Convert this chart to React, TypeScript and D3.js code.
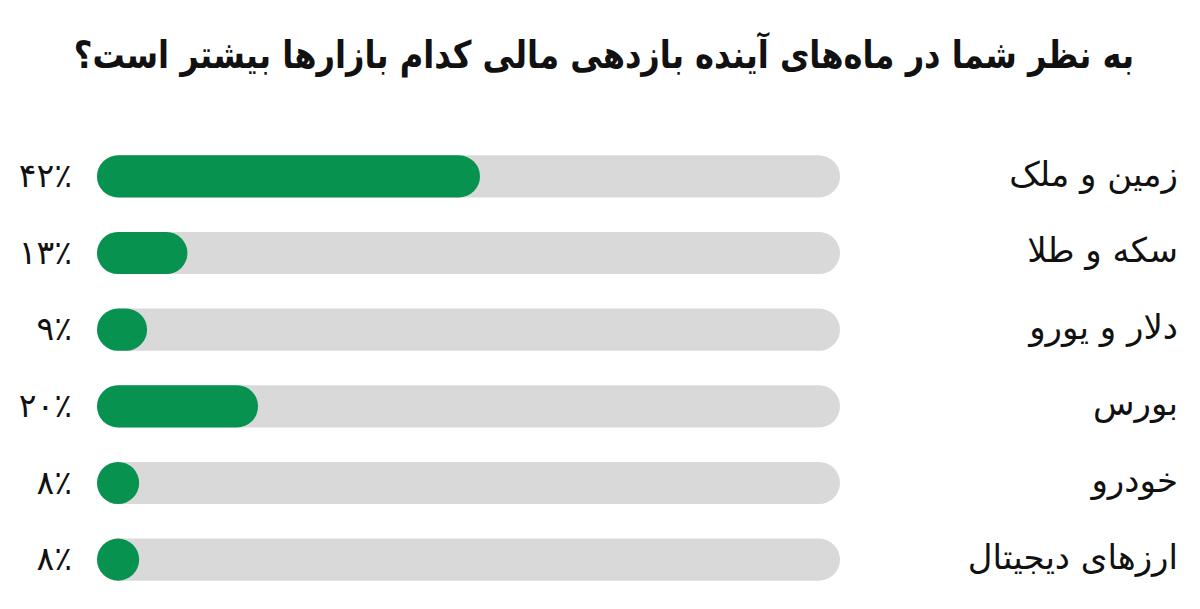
import React from 'react';
import * as d3 from 'd3';

const TITLE = 'به نظر شما در ماه‌های آینده بازدهی مالی کدام بازارها بیشتر است؟';
const categories = ['زمین و ملک', 'سکه و طلا', 'دلار و یورو', 'بورس', 'خودرو', 'ارزهای دیجیتال'];
const values = [42, 13, 9, 20, 8, 8];
const valueLabels = ['۴۲٪', '۱۳٪', '۹٪', '۲۰٪', '۸٪', '۸٪'];

const W = 1200;
const H = 609;
const TRACK_LEFT = 97;
const TRACK_RIGHT = 840;
const GREEN = '#07934f';
const TRACK = '#d9d9d9';
const FONT = '"DejaVu Sans", sans-serif';

const App = () => {
    const y = d3
        .scaleBand<string>()
        .domain(categories)
        .range([140, 596])
        .paddingInner(0.45)
        .paddingOuter(0.2);
    // bars are drawn as pills; the smallest ones collapse to a circle
    const w = d3.scaleLinear().domain([8, 42]).range([40, 383]);
    const bh = y.bandwidth();

    return (
        <div style={{ position: 'fixed', left: 0, top: 0 }}>
            <svg width={W} height={H} style={{ background: '#fff', display: 'block' }}>
                {/* title is condensed a bit to fit like the original narrow face */}
                <g transform='translate(1134,68) scale(0.845,1)'>
                    <text
                        direction='rtl'
                        textAnchor='start'
                        fontFamily={FONT}
                        fontWeight='bold'
                        fontSize={38}
                        fill='#111'
                    >
                        {TITLE}
                    </text>
                </g>
                {categories.map((c, i) => {
                    const top = y(c) ?? 0;
                    const cy = top + bh / 2;
                    const bw = Math.max(bh, w(values[i]));
                    return (
                        <g key={c}>
                            <rect
                                x={TRACK_LEFT}
                                y={top}
                                width={TRACK_RIGHT - TRACK_LEFT}
                                height={bh}
                                rx={bh / 2}
                                fill={TRACK}
                            />
                            <rect x={TRACK_LEFT} y={top} width={bw} height={bh} rx={bh / 2} fill={GREEN} />
                            <text
                                x={72}
                                y={cy}
                                dy='0.32em'
                                textAnchor='end'
                                fontFamily={FONT}
                                fontSize={33}
                                fill='#111'
                            >
                                {valueLabels[i]}
                            </text>
                            <text
                                x={1178}
                                y={cy}
                                dy='0.27em'
                                direction='rtl'
                                textAnchor='start'
                                fontFamily={FONT}
                                fontSize={34}
                                fill='#111'
                            >
                                {c}
                            </text>
                        </g>
                    );
                })}
            </svg>
        </div>
    );
};

export default App;
